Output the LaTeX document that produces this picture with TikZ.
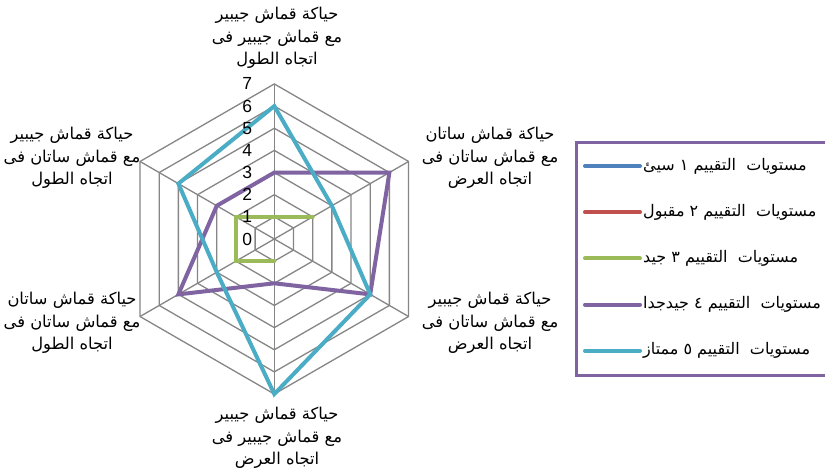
\documentclass[tikz,border=0pt]{standalone}
\usepackage{fontspec}
\setmainfont{Liberation Sans}
\newfontfamily\arabicfont[Script=Arabic]{DejaVu Sans}
\TeXXeTstate=1
\definecolor{gridgray}{HTML}{868686}
\definecolor{sblue}{HTML}{4F81BD}
\definecolor{sred}{HTML}{C0504D}
\definecolor{sgreen}{HTML}{9BBB59}
\definecolor{spurple}{HTML}{8064A2}
\definecolor{scyan}{HTML}{4BACC6}
\tikzset{
  gridline/.style={draw=gridgray, line width=1.3pt},
  series/.style={line width=4pt, line cap=round},
  axlbl/.style={font=\arabicfont\fontsize{16.3}{22.5}\selectfont, align=center, inner sep=0pt},
  numlbl/.style={font=\fontsize{17.5}{19}\selectfont, inner sep=0pt},
  legline/.style={line width=4pt, line cap=round},
  legtext/.style={font=\arabicfont\fontsize{16}{18}\selectfont, anchor=west, inner sep=0pt},
  legbox/.style={draw=spurple, line width=3pt, fill=white}
}
\begin{document}
\begin{tikzpicture}[x=1pt,y=1pt]
\useasboundingbox (0,0) rectangle (825,475);
\clip (0,0) rectangle (825,475);
\fill[white] (0,0) rectangle (825,475);
\coordinate (c) at (274.3,236);
% grid
\begin{scope}[shift={(c)}, x=22.15pt, y=22.15pt]
  \foreach \k in {1,...,7}{
    \draw[gridline] (90:\k) -- (30:\k) -- (-30:\k) -- (-90:\k) -- (-150:\k) -- (150:\k) -- cycle;
  }
  \foreach \a in {90,30,-30,-90,-150,150}{
    \draw[gridline] (0,0) -- (\a:7);
  }
  % series
  \draw[series, sgreen] (-90:1) -- (-150:2) -- (150:2) -- (90:1) -- (30:2);
  \draw[series, spurple] (90:3) -- (30:6) -- (-30:5) -- (-90:2) -- (-150:5) -- (150:3) -- cycle;
  \draw[series, scyan] (90:6) -- (30:3) -- (-30:5) -- (-90:7) -- (-150:3) -- (150:5) -- cycle;
\end{scope}
% numbers
\foreach \k in {0,...,7}{
  \node[numlbl] (n\k) at (247.3,{236+\k*22.15}) {\k};
}
% axis labels
\node[axlbl] (ltop) at (277,437) {\beginR حياكة قماش جيبير\endR\\\beginR مع قماش جيبير فى\endR\\\beginR اتجاه الطول\endR};
\node[axlbl] (lur) at (490,317) {\beginR حياكة قماش ساتان\endR\\\beginR مع قماش ساتان فى\endR\\\beginR اتجاه العرض\endR};
\node[axlbl] (llr) at (490,152) {\beginR حياكة قماش جيبير\endR\\\beginR مع قماش ساتان فى\endR\\\beginR اتجاه العرض\endR};
\node[axlbl] (lbot) at (277,37) {\beginR حياكة قماش جيبير\endR\\\beginR مع قماش جيبير فى\endR\\\beginR اتجاه العرض\endR};
\node[axlbl] (lll) at (72,152) {\beginR حياكة قماش ساتان\endR\\\beginR مع قماش ساتان فى\endR\\\beginR اتجاه الطول\endR};
\node[axlbl] (lul) at (72,317) {\beginR حياكة قماش جيبير\endR\\\beginR مع قماش ساتان فى\endR\\\beginR اتجاه الطول\endR};
% legend
\node[legbox, minimum width=255pt, minimum height=233pt, anchor=south west] (leg) at (575,98) {};
\foreach \i/\col/\txt in {0/sblue/{مستويات\ \ التقييم ١ سيئ},1/sred/{مستويات\ \ التقييم ٢ مقبول},2/sgreen/{مستويات\ \ التقييم ٣ جيد},3/spurple/{مستويات\ \ التقييم ٤ جيدجدا},4/scyan/{مستويات\ \ التقييم ٥ ممتاز}}{
  \coordinate (la\i) at (585,{309-\i*46.2});
  \coordinate (lb\i) at (640,{309-\i*46.2});
  \draw[legline, \col] (la\i) -- (lb\i);
  \node[legtext] (lt\i) at (643,{309-\i*46.2}) {\beginR\txt\endR};
}
\end{tikzpicture}
\end{document}
